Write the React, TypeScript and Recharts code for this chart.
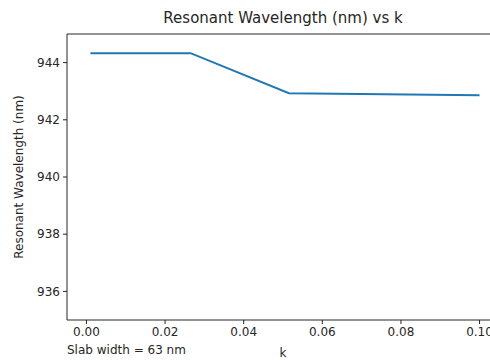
// App.tsx — resonant wavelength vs k, line chart in matplotlib style
import { LineChart, Line, XAxis, YAxis, Label, ReferenceLine } from 'recharts';

const kValues = [0.001, 0.0265, 0.0515, 0.1];
const wavelengths = [944.33, 944.33, 942.93, 942.86];
const xTicks = [0, 0.02, 0.04, 0.06, 0.08, 0.1];
const yTicks = [936, 938, 940, 942, 944];

const data = kValues.map((k, i) => ({ k, wl: wavelengths[i] }));

const FONT = '"DejaVu Sans", sans-serif';
const INK = '#262626';

export default function App() {
  return (
    <div
      style={{
        position: 'fixed',
        left: 0,
        top: 0,
        width: 490,
        height: 360,
        overflow: 'hidden',
        background: '#fff',
        fontFamily: FONT,
      }}
    >
      <div
        style={{
          position: 'absolute',
          left: 67,
          width: 432,
          top: 9,
          textAlign: 'center',
          fontSize: 15,
          color: INK,
          whiteSpace: 'nowrap',
        }}
      >
        Resonant Wavelength (nm) vs k
      </div>
      <div
        style={{
          position: 'absolute',
          left: 67,
          top: 343,
          fontSize: 12,
          color: INK,
          whiteSpace: 'nowrap',
        }}
      >
        Slab width = 63 nm
      </div>
      <LineChart
        width={520}
        height={360}
        data={data}
        margin={{ top: 34, right: 21, bottom: 0, left: 0 }}
        style={{ position: 'absolute', left: 0, top: 0 }}
      >
        <XAxis
          dataKey="k"
          type="number"
          domain={[-0.00495, 0.10495]}
          ticks={xTicks}
          allowDataOverflow
          tickFormatter={(v: number) => v.toFixed(2)}
          height={40}
          tickSize={4}
          tickMargin={3}
          stroke={INK}
          tick={{ fill: INK, fontSize: 12, fontFamily: FONT }}
        >
          <Label
            content={({ viewBox }: any) => (
              <text
                x={viewBox.x + viewBox.width / 2}
                y={357}
                textAnchor="middle"
                fontSize={12}
                fontFamily={FONT}
                fill={INK}
              >
                k
              </text>
            )}
          />
        </XAxis>
        <YAxis
          type="number"
          domain={[935, 945]}
          ticks={yTicks}
          allowDataOverflow
          width={67}
          tickSize={4}
          tickMargin={3}
          stroke={INK}
          tick={{ fill: INK, fontSize: 12, fontFamily: FONT }}
        >
          <Label
            content={({ viewBox }: any) => {
              const cy = viewBox.y + viewBox.height / 2;
              return (
                <text
                  x={23}
                  y={cy}
                  transform={`rotate(-90 23 ${cy})`}
                  textAnchor="middle"
                  fontSize={12}
                  fontFamily={FONT}
                  fill={INK}
                >
                  Resonant Wavelength (nm)
                </text>
              );
            }}
          />
        </YAxis>
        {/* top spine */}
        <ReferenceLine y={945} stroke={INK} strokeWidth={1} ifOverflow="visible" />
        <Line
          type="linear"
          dataKey="wl"
          stroke="#1f77b4"
          strokeWidth={2}
          dot={false}
          isAnimationActive={false}
        />
      </LineChart>
    </div>
  );
}
